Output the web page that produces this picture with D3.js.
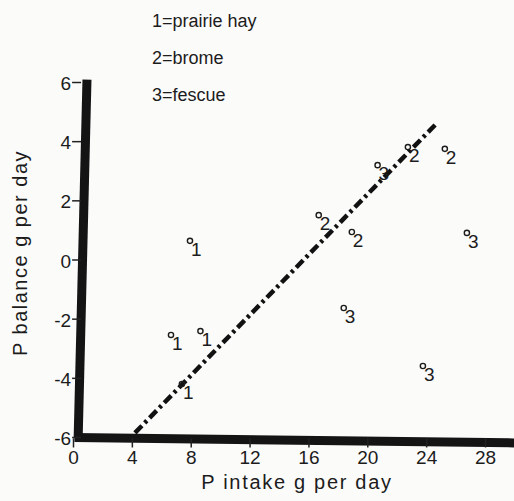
<!DOCTYPE html>
<html>
<head>
<meta charset="utf-8">
<script src="https://cdn.jsdelivr.net/npm/d3@7"></script>
<style>
  body { margin: 0; background: #fbfbfa; }
  svg text { font-family: "Liberation Sans", Arial, sans-serif; fill: #1c1c1c; }
</style>
</head>
<body>
<figure id="pbal" style="margin:0"></figure>
<script>
// forage types (legend + marker digit)
const forages = ["1=prairie hay", "2=brome", "3=fescue"]
// [P intake, P balance] per forage
const prairieHay = [[7.95, 0.63], [6.66, -2.55], [8.66, -2.42], [7.4, -4.21]]
const brome = [[16.7, 1.5], [18.95, 0.93], [22.76, 3.8], [25.27, 3.74]]
const fescue = [[20.7, 3.19], [26.77, 0.9], [18.4, -1.64], [23.78, -3.6]]
const regression = [[4.21, -5.86], [24.73, 4.61]]
const xTicks = [0, 4, 8, 12, 16, 20, 24, 28]
const yTicks = [-6, -4, -2, 0, 2, 4, 6]

const width = 514, height = 501

const x = d3.scaleLinear().domain([0, 28]).range([73, 485])
const y = d3.scaleLinear().domain([-6, 6]).range([437, 82])

const svg = d3.select("figure#pbal")
  .append("svg")
  .attr("width", width)
  .attr("height", height)

// legend
svg.append("g").selectAll("text")
  .data(forages)
  .join("text")
    .attr("x", 152)
    .attr("y", (d, i) => 27 + i * 37)
    .style("font-size", "18px")
    .text(d => d)

// thick hand-drawn axis lines (slightly skewed like the scan)
svg.append("line")
  .attr("x1", x(0.95)).attr("y1", y(6.08))
  .attr("x2", x(0.35)).attr("y2", y(-6.05))
  .attr("stroke", "#141414")
  .attr("stroke-width", 9)
svg.append("line")
  .attr("x1", x(0.1)).attr("y1", y(-6.02))
  .attr("x2", x(30)).attr("y2", y(-6.2))
  .attr("stroke", "#141414")
  .attr("stroke-width", 9)

// y ticks
let yAxis = svg.append("g")
  .attr("transform", `translate(${x(0.55)},0)`)
  .call(d3.axisLeft(y).tickValues(yTicks).tickSize(9).tickPadding(1).tickFormat(d3.format("d")))
yAxis.select(".domain").remove()
yAxis.selectAll("line").attr("stroke", "#222").attr("stroke-width", 1.5)
yAxis.selectAll("text")
  .style("font-size", "19px")
  .attr("dy", "0.4em")
  .text(d => d < 0 ? "-" + Math.abs(d) : d)

// x ticks
let xAxis = svg.append("g")
  .attr("transform", `translate(0,${y(-6.05)})`)
  .call(d3.axisBottom(x).tickValues(xTicks).tickSize(9).tickPadding(3))
xAxis.select(".domain").remove()
xAxis.selectAll("line").attr("stroke", "#222").attr("stroke-width", 1.5)
xAxis.selectAll("text").style("font-size", "19px")

// axis titles
svg.append("text")
  .attr("x", 297)
  .attr("y", 489)
  .attr("text-anchor", "middle")
  .style("font-size", "20px")
  .style("letter-spacing", "1.7px")
  .text("P intake g per day")

svg.append("text")
  .attr("transform", "translate(27,253) rotate(-90)")
  .attr("text-anchor", "middle")
  .style("font-size", "20px")
  .style("letter-spacing", "1.5px")
  .text("P balance g per day")

// regression line
svg.append("path")
  .datum(regression)
  .attr("fill", "none")
  .attr("stroke", "#111")
  .attr("stroke-width", 4.5)
  .attr("stroke-dasharray", "10,4,3,4")
  .attr("d", d3.line().x(d => x(d[0])).y(d => y(d[1])))

// points: small open circle with forage digit
const groups = [prairieHay, brome, fescue]
groups.forEach((pts, i) => {
  let g = svg.append("g")
  g.selectAll("circle")
    .data(pts)
    .join("circle")
      .attr("cx", d => x(d[0]))
      .attr("cy", d => y(d[1]))
      .attr("r", 2.6)
      .attr("fill", "none")
      .attr("stroke", "#1c1c1c")
      .attr("stroke-width", 1.4)
  g.selectAll("text")
    .data(pts)
    .join("text")
      .attr("x", d => x(d[0]) + 1)
      .attr("y", d => y(d[1]) + 15)
      .style("font-size", "19px")
      .text(String(i + 1))
})
</script>
</body>
</html>
